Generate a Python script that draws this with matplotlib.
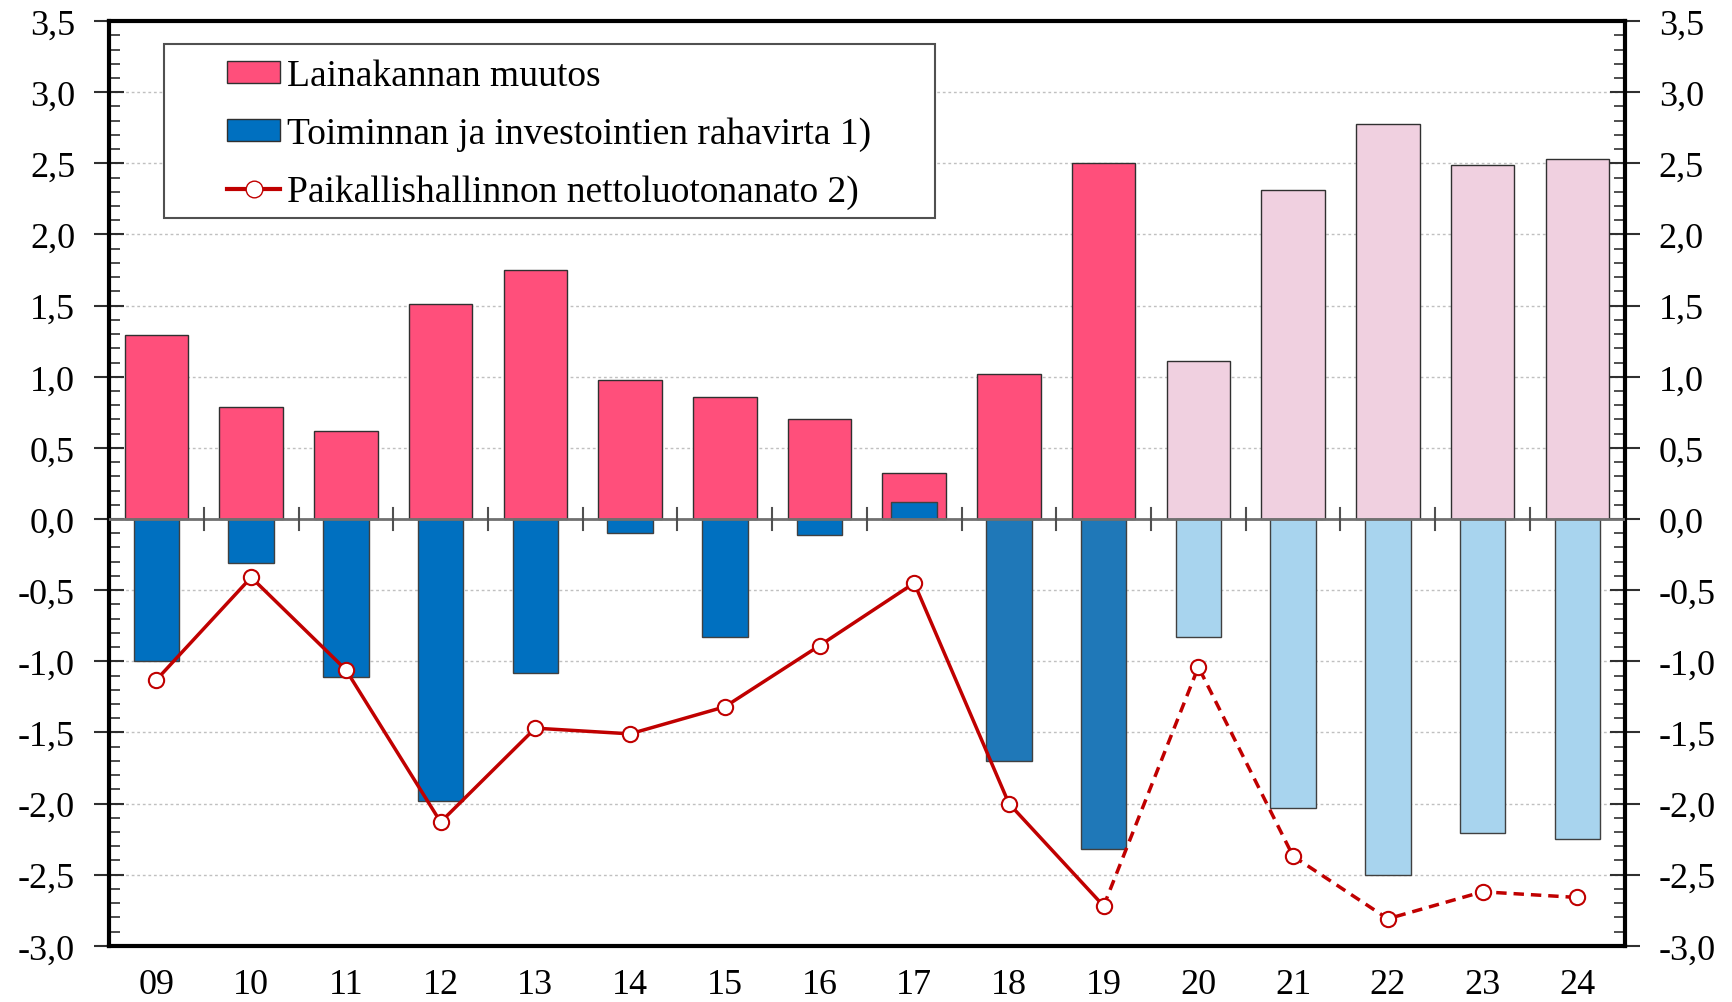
import matplotlib
matplotlib.use("Agg")
import matplotlib.pyplot as plt
from matplotlib.ticker import MultipleLocator, FuncFormatter
from matplotlib.lines import Line2D
from matplotlib.patches import Patch, Rectangle

vuodet = ["09", "10", "11", "12", "13", "14", "15", "16", "17", "18", "19", "20", "21", "22", "23", "24"]
lainakanta = [1.29, 0.79, 0.62, 1.51, 1.75, 0.98, 0.86, 0.70, 0.32, 1.02, 2.50, 1.11, 2.31, 2.78, 2.49, 2.53]
rahavirta = [-1.00, -0.31, -1.11, -1.98, -1.08, -0.10, -0.83, -0.11, 0.12, -1.70, -2.32, -0.83, -2.03, -2.50, -2.21, -2.25]
nettoluotonanto = [-1.13, -0.41, -1.06, -2.13, -1.47, -1.51, -1.32, -0.89, -0.45, -2.00, -2.72, -1.04, -2.37, -2.81, -2.62, -2.66]

pink_cols = ["#FF4F7B"] * 11 + ["#F0D0E0"] * 5
blue_cols = ["#0070C0"] * 9 + ["#1F78B8"] * 2 + ["#A8D4EE"] * 5

plt.rcParams["font.family"] = ["Liberation Serif", "DejaVu Serif"]
plt.rcParams["font.size"] = 26

fig = plt.figure(figsize=(17.32, 10.03), dpi=100)
ax = fig.add_axes([0.063, 0.056, 0.875, 0.922])

x = list(range(len(vuodet)))
ax.bar(x, lainakanta, width=0.67, color=pink_cols, edgecolor="#303030", linewidth=1, zorder=3)
ax.bar(x, rahavirta, width=0.48, color=blue_cols, edgecolor="#404040", linewidth=1, zorder=3)

# toteutunut ja ennuste
ax.plot(x[:11], nettoluotonanto[:11], color="#C00000", lw=2.5, zorder=4)
ax.plot(x[10:], nettoluotonanto[10:], color="#C00000", lw=2.5, ls=(0, (3, 2)), zorder=4)
ax.plot(x, nettoluotonanto, ls="none", marker="o", markersize=11, markerfacecolor="white",
        markeredgecolor="#C00000", markeredgewidth=1.5, zorder=5)

# nollaviiva ja erottimet
ax.axhline(0, color="#707070", lw=2, zorder=4)
for i in range(len(vuodet) - 1):
    ax.plot([i + 0.5, i + 0.5], [-0.08, 0.08], color="#505050", lw=1.5, zorder=4)

ax.set_xlim(-0.5, 15.5)
ax.set_ylim(-3.0, 3.5)
ax.set_xticks(x)
ax.set_xticklabels(vuodet)
ax.tick_params(axis="x", length=0, pad=16)

ax.yaxis.set_major_locator(MultipleLocator(0.5))
ax.yaxis.set_minor_locator(MultipleLocator(0.1))
ax.yaxis.set_major_formatter(FuncFormatter(lambda v, p: ("%.1f" % v).replace(".", ",")))
ax.tick_params(axis="y", which="major", direction="inout", length=21, width=1.5,
               left=True, right=True, labelleft=True, labelright=True, pad=14, color="#303030")
ax.tick_params(axis="y", which="minor", direction="in", length=8, width=1.2,
               left=True, right=True, color="#303030")
ax.grid(axis="y", which="major", color="#C0C0C0", ls=(0, (2, 2)), lw=1, zorder=0)

for s in ax.spines.values():
    s.set_linewidth(3)
    s.set_color("black")

# selitteen kehys
ax.add_patch(Rectangle((0.0363, 0.787), 0.5087, 0.188, transform=ax.transAxes,
                       facecolor="white", edgecolor="#505050", lw=1.5, zorder=6))

handles = [
    Patch(facecolor="#FF4F7B", edgecolor="#303030"),
    Patch(facecolor="#0070C0", edgecolor="#303030"),
    Line2D([], [], color="#C00000", lw=3, marker="o", markersize=12,
           markerfacecolor="white", markeredgecolor="#C00000"),
]
labels = ["Lainakannan muutos", "Toiminnan ja investointien rahavirta 1)",
          "Paikallishallinnon nettoluotonanato 2)"]
leg = ax.legend(handles, labels, loc="upper left", bbox_to_anchor=(0.078, 0.959),
                frameon=False, fontsize=27,
                handlelength=1.4, handleheight=0.5, handletextpad=0.18,
                labelspacing=0.62, borderpad=0, borderaxespad=0)
leg.set_zorder(7)

plt.savefig("out.png", dpi=100)
